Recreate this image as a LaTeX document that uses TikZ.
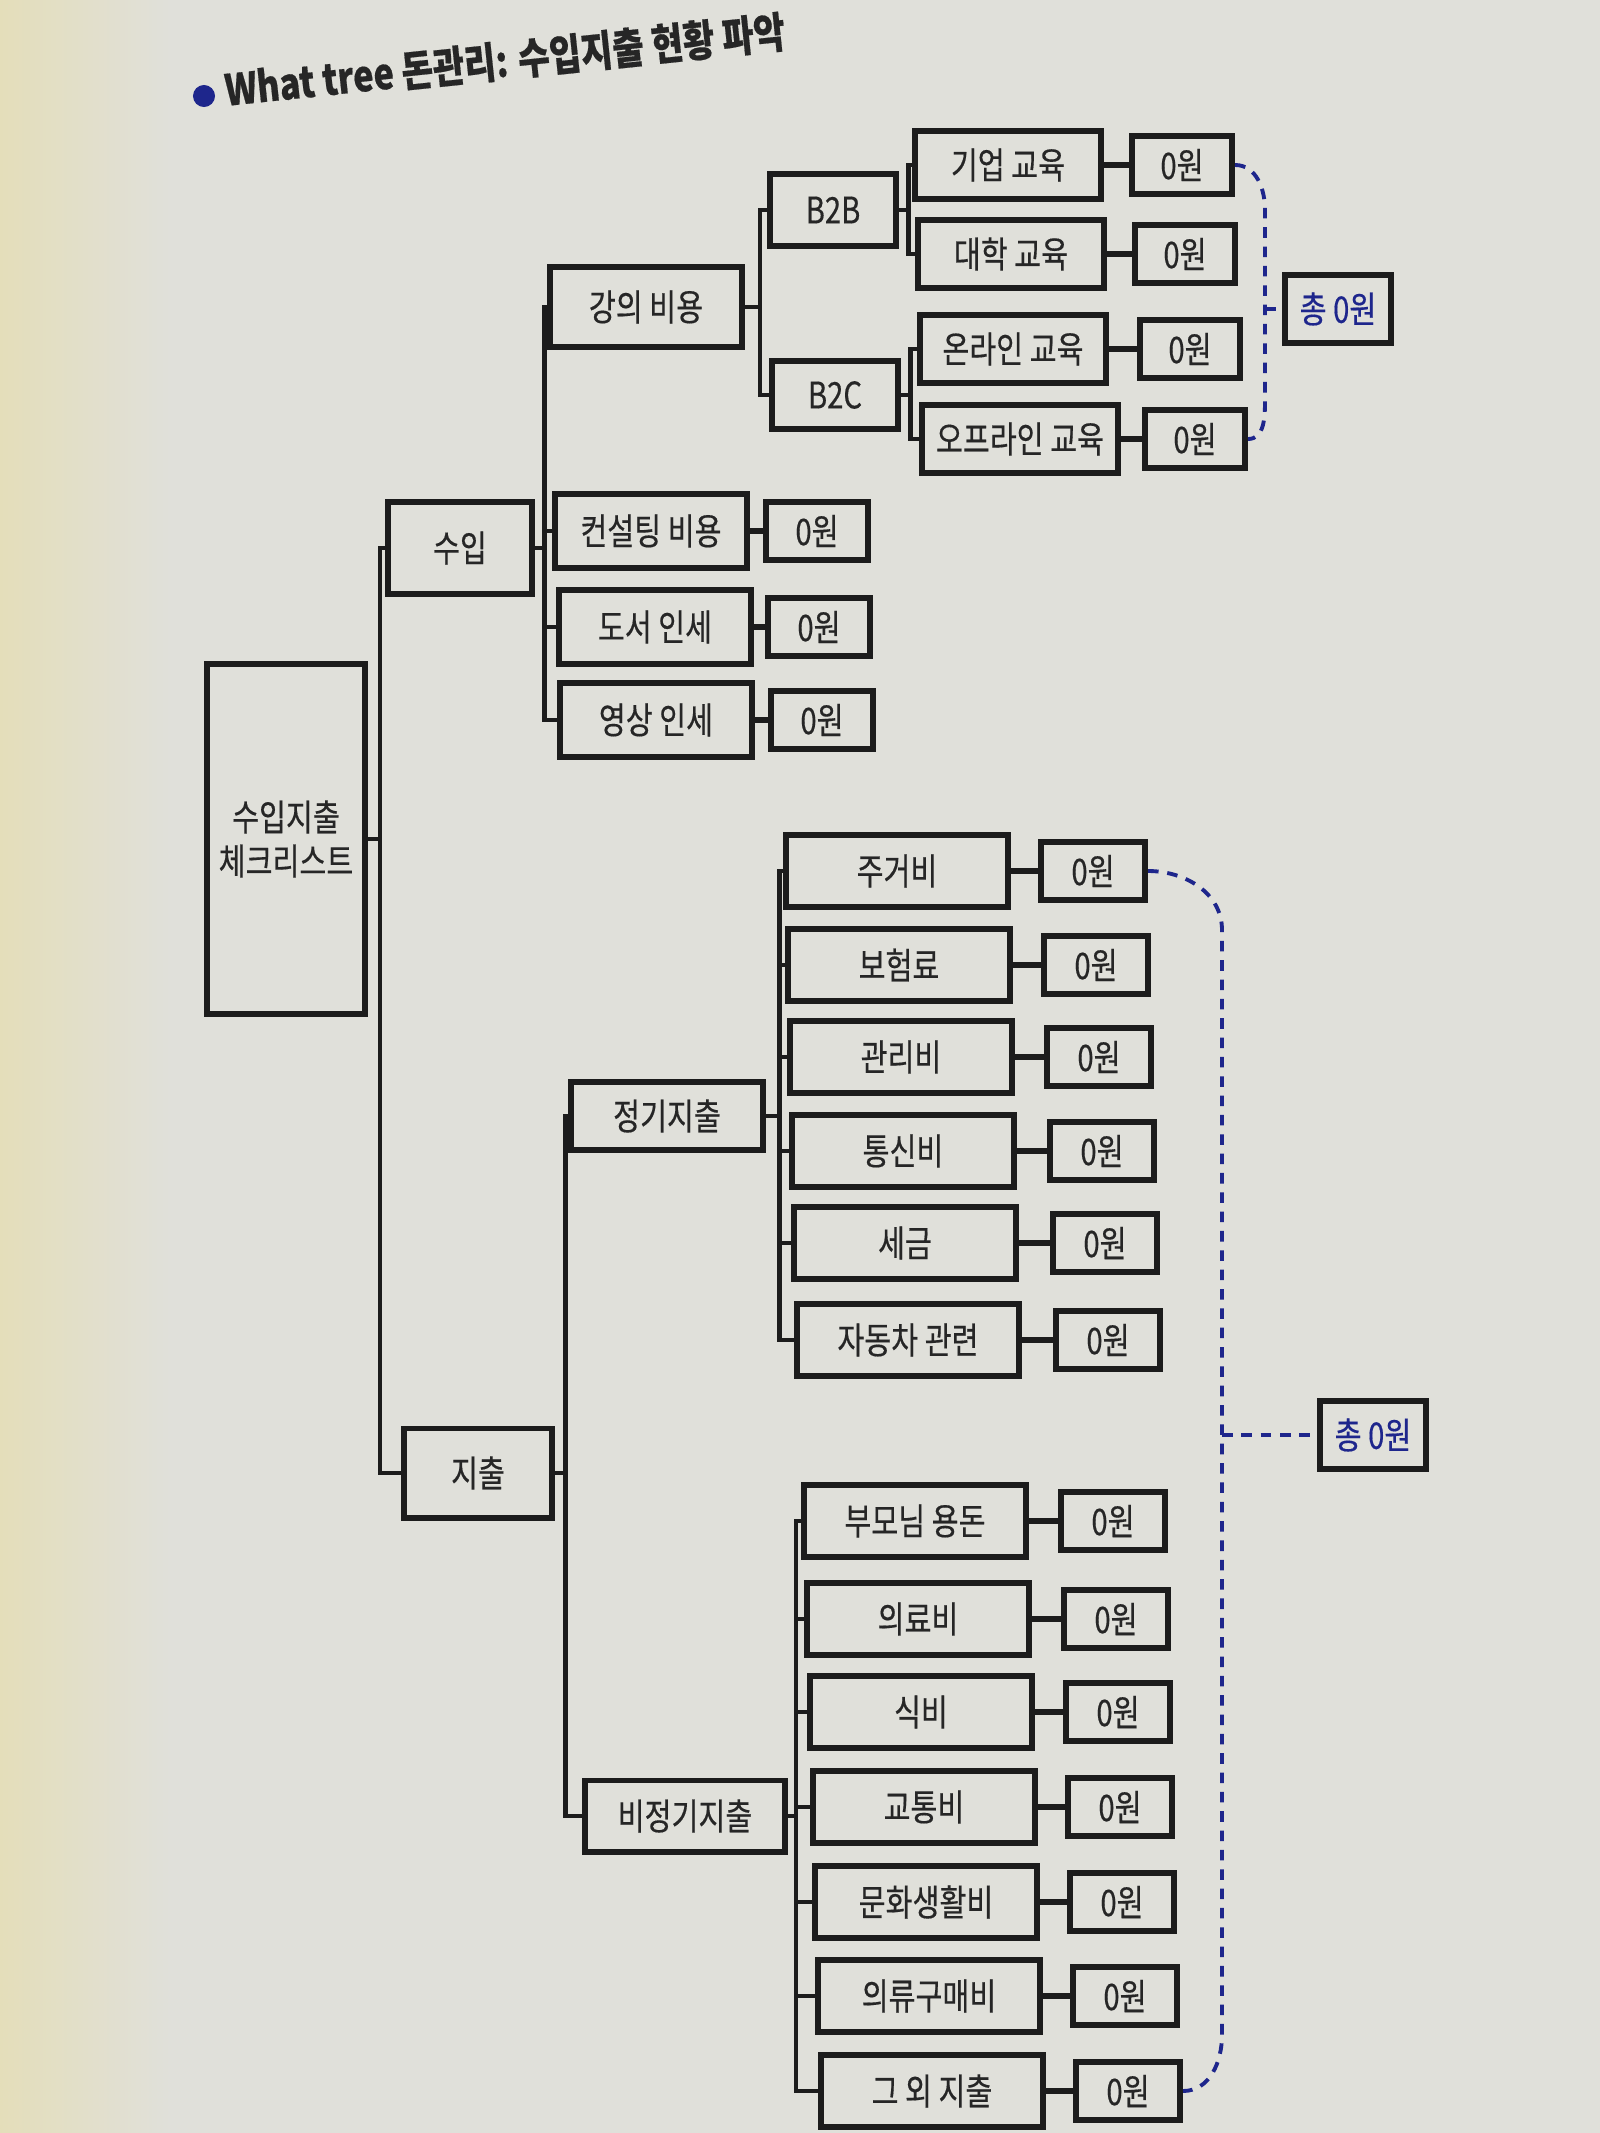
\documentclass[tikz,border=0pt]{standalone}
\usepackage{fontspec}
\setmainfont{Noto Sans CJK KR}[FakeStretch=0.8, FakeBold=0.4]
\usepackage{tikz}

\definecolor{paper}{RGB}{224,224,218}
\definecolor{edge}{RGB}{228,222,186}
\definecolor{boxline}{RGB}{28,28,28}
\definecolor{ink}{RGB}{38,38,38}
\definecolor{navy}{RGB}{30,38,140}

\tikzset{
  box/.style={draw=boxline, line width=1.7pt, text=ink, inner sep=0pt, font=\fontsize{10.4}{12.5}\selectfont},
  midbox/.style={box, minimum width=1.92cm, minimum height=0.74cm},
  subbox/.style={box, minimum width=1.86cm, minimum height=0.68cm},
  leafbox/.style={box, minimum width=2.21cm, minimum height=0.72cm},
  wonbox/.style={box, minimum width=1.02cm, minimum height=0.58cm},
  totalbox/.style={box, text=navy, minimum width=1.05cm, minimum height=0.68cm},
  link/.style={draw=boxline, line width=1.2pt},
  leaflink/.style={draw=boxline, line width=1.7pt},
  sumline/.style={draw=navy, line width=1.1pt, dash pattern=on 3pt off 2.5pt},
  title/.style={text=ink, font=\bfseries\fontsize{12.2}{14}\selectfont, inner sep=0pt}
}

\begin{document}
\begin{tikzpicture}
\begin{scope}[x=0.01cm, y=-0.01cm]

\useasboundingbox (0,0) rectangle (1600,2133);
\fill[paper] (0,0) rectangle (1600,2133);
\shade[left color=edge, right color=paper] (0,0) rectangle (170,2133);

% title
\node[circle, fill=navy, inner sep=0pt, minimum size=0.22cm] (dot) at (204,96) {};
\node[title, rotate=6, anchor=base west] (head) at (226,106) {What tree 돈관리: 수입지출 현황 파악};

% root and first level
\node[box, minimum width=1.58cm, minimum height=3.5cm, align=center] (root) at (286,839) {수입지출\\체크리스트};
\node[box, minimum width=1.43cm, minimum height=0.92cm] (suip) at (460,548) {수입};
\node[box, minimum width=1.47cm, minimum height=0.89cm] (jichul) at (478,1473) {지출};

\draw[link] (root.east) -- ++(12,0) |- (suip.west);
\draw[link] (root.east) -- ++(12,0) |- (jichul.west);

% income
\node[midbox, minimum height=0.79cm] (lecture) at (646,307) {강의 비용};
\node[midbox] (consult) at (651,531) {컨설팅 비용};
\node[midbox] (book) at (655,627) {도서 인세};
\node[midbox] (video) at (656,720) {영상 인세};
\node[wonbox] (consult0) at (817,531) {0원};
\node[wonbox] (book0) at (819,627) {0원};
\node[wonbox] (video0) at (822,720) {0원};

\draw[link] (suip.east) -- ++(10,0) |- (lecture.west);
\draw[link] (suip.east) -- ++(10,0) |- (consult.west);
\draw[link] (suip.east) -- ++(10,0) |- (book.west);
\draw[link] (suip.east) -- ++(10,0) |- (video.west);
\draw[leaflink] (consult.east) -- (consult0.west);
\draw[leaflink] (book.east) -- (book0.west);
\draw[leaflink] (video.east) -- (video0.west);

\node[box, minimum width=1.25cm, minimum height=0.71cm] (btob) at (833,210) {B2B};
\node[box, minimum width=1.25cm, minimum height=0.68cm] (btoc) at (835,395) {B2C};
\draw[link] (lecture.east) -- ++(15,0) |- (btob.west);
\draw[link] (lecture.east) -- ++(15,0) |- (btoc.west);

\node[subbox] (corp) at (1008,165) {기업 교육};
\node[subbox] (univ) at (1011,254) {대학 교육};
\node[subbox] (online) at (1013,349) {온라인 교육};
\node[subbox, minimum width=1.96cm] (offline) at (1020,439) {오프라인 교육};
\node[wonbox, minimum width=1.0cm] (corp0) at (1182,165) {0원};
\node[wonbox, minimum width=1.0cm] (univ0) at (1185,254) {0원};
\node[wonbox, minimum width=1.0cm] (online0) at (1190,349) {0원};
\node[wonbox, minimum width=1.0cm] (offline0) at (1195,439) {0원};

\draw[link] (btob.east) -- ++(10,0) |- (corp.west);
\draw[link] (btob.east) -- ++(10,0) |- (univ.west);
\draw[link] (btoc.east) -- ++(10,0) |- (online.west);
\draw[link] (btoc.east) -- ++(10,0) |- (offline.west);
\draw[leaflink] (corp.east) -- (corp0.west);
\draw[leaflink] (univ.east) -- (univ0.west);
\draw[leaflink] (online.east) -- (online0.west);
\draw[leaflink] (offline.east) -- (offline0.west);

\node[totalbox] (toptotal) at (1338,309) {총 0원};
\coordinate (topjoin) at (1265,309);
\draw[sumline] (corp0.east) to[out=0, in=90] (1265,210) -- (1265,400) to[out=-90, in=0] (offline0.east);
\draw[sumline] (topjoin) -- (toptotal.west);

% expenses
\node[box, minimum width=1.91cm, minimum height=0.68cm] (regular) at (667,1116) {정기지출};
\node[box, minimum width=2.0cm, minimum height=0.71cm] (irregular) at (685,1816) {비정기지출};
\draw[link] (jichul.east) -- ++(11,0) |- (regular.west);
\draw[link] (jichul.east) -- ++(11,0) |- (irregular.west);

\node[leafbox] (housing) at (897,871) {주거비};
\node[leafbox] (insurance) at (899,965) {보험료};
\node[leafbox] (upkeep) at (901,1057) {관리비};
\node[leafbox] (phone) at (903,1151) {통신비};
\node[leafbox] (tax) at (905,1243) {세금};
\node[leafbox] (car) at (908,1340) {자동차 관련};
\node[wonbox, minimum width=1.04cm] (housing0) at (1093,871) {0원};
\node[wonbox, minimum width=1.04cm] (insurance0) at (1096,965) {0원};
\node[wonbox, minimum width=1.04cm] (upkeep0) at (1099,1057) {0원};
\node[wonbox, minimum width=1.04cm] (phone0) at (1102,1151) {0원};
\node[wonbox, minimum width=1.04cm] (tax0) at (1105,1243) {0원};
\node[wonbox, minimum width=1.04cm] (car0) at (1108,1340) {0원};

\draw[link] (regular.east) -- ++(14,0) |- (housing.west);
\draw[link] (regular.east) -- ++(14,0) |- (insurance.west);
\draw[link] (regular.east) -- ++(14,0) |- (upkeep.west);
\draw[link] (regular.east) -- ++(14,0) |- (phone.west);
\draw[link] (regular.east) -- ++(14,0) |- (tax.west);
\draw[link] (regular.east) -- ++(14,0) |- (car.west);
\draw[leaflink] (housing.east) -- (housing0.west);
\draw[leaflink] (insurance.east) -- (insurance0.west);
\draw[leaflink] (upkeep.east) -- (upkeep0.west);
\draw[leaflink] (phone.east) -- (phone0.west);
\draw[leaflink] (tax.east) -- (tax0.west);
\draw[leaflink] (car.east) -- (car0.west);

\node[leafbox, minimum width=2.22cm] (parents) at (915,1521) {부모님 용돈};
\node[leafbox, minimum width=2.22cm] (medical) at (918,1619) {의료비};
\node[leafbox, minimum width=2.22cm] (food) at (921,1712) {식비};
\node[leafbox, minimum width=2.22cm] (transit) at (924,1807) {교통비};
\node[leafbox, minimum width=2.22cm] (culture) at (926,1902) {문화생활비};
\node[leafbox, minimum width=2.22cm] (clothes) at (929,1996) {의류구매비};
\node[leafbox, minimum width=2.22cm] (other) at (932,2091) {그 외 지출};
\node[wonbox, minimum width=1.04cm] (parents0) at (1113,1521) {0원};
\node[wonbox, minimum width=1.04cm] (medical0) at (1116,1619) {0원};
\node[wonbox, minimum width=1.04cm] (food0) at (1118,1712) {0원};
\node[wonbox, minimum width=1.04cm] (transit0) at (1120,1807) {0원};
\node[wonbox, minimum width=1.04cm] (culture0) at (1122,1902) {0원};
\node[wonbox, minimum width=1.04cm] (clothes0) at (1125,1996) {0원};
\node[wonbox, minimum width=1.04cm] (other0) at (1128,2091) {0원};

\draw[link] (irregular.east) -- ++(8,0) |- (parents.west);
\draw[link] (irregular.east) -- ++(8,0) |- (medical.west);
\draw[link] (irregular.east) -- ++(8,0) |- (food.west);
\draw[link] (irregular.east) -- ++(8,0) |- (transit.west);
\draw[link] (irregular.east) -- ++(8,0) |- (culture.west);
\draw[link] (irregular.east) -- ++(8,0) |- (clothes.west);
\draw[link] (irregular.east) -- ++(8,0) |- (other.west);
\draw[leaflink] (parents.east) -- (parents0.west);
\draw[leaflink] (medical.east) -- (medical0.west);
\draw[leaflink] (food.east) -- (food0.west);
\draw[leaflink] (transit.east) -- (transit0.west);
\draw[leaflink] (culture.east) -- (culture0.west);
\draw[leaflink] (clothes.east) -- (clothes0.west);
\draw[leaflink] (other.east) -- (other0.west);

\node[totalbox, minimum width=1.06cm] (bottomtotal) at (1373,1435) {총 0원};
\coordinate (bottomjoin) at (1222,1435);
\draw[sumline] (housing0.east) to[out=0, in=90] (1222,930) -- (1222,2035) to[out=-90, in=0] (other0.east);
\draw[sumline] (bottomjoin) -- (bottomtotal.west);

\end{scope}
\end{tikzpicture}
\end{document}
